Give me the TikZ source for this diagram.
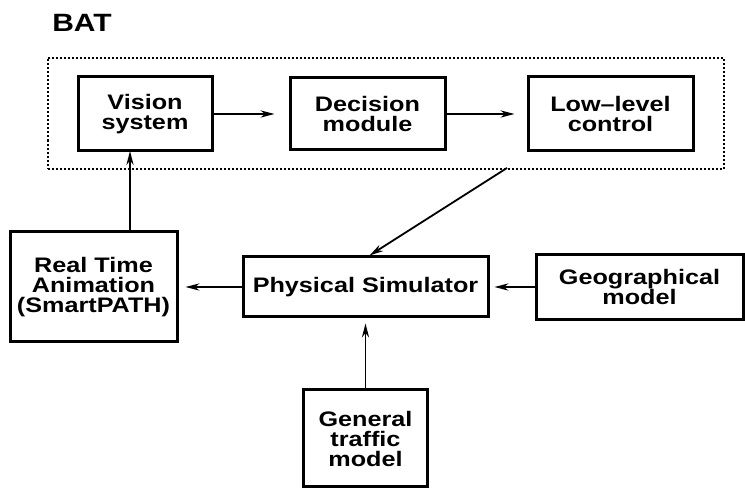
\documentclass[tikz,border=0pt]{standalone}
\usepackage{fontspec}
\setmainfont{Liberation Sans}[FakeStretch=1.2]
\usepackage{tikz}
\usetikzlibrary{arrows.meta,fit,positioning}
\tikzset{
    %Define standard arrow tip
    >={Stealth[length=7pt,width=3.6pt]},
    %Define style for boxes
    blok/.style={
           rectangle,
           draw=black, line width=1.5pt,
           inner sep=2pt,
           font=\bfseries\fontsize{10.5}{10}\selectfont,
           align=center},
    groep/.style={
           rectangle,
           draw=black, line width=1pt,
           dash pattern=on 1pt off 1pt,
           inner xsep=14.5pt,
           inner ysep=8.5pt},
    % Define arrow style
    pil/.style={
           ->,
           line width=0.9pt}
}
\begin{document}
\begin{tikzpicture}[x=0.5pt,y=-0.5pt]
\useasboundingbox (0,0) rectangle (745,491);
 %nodes
\node[font=\bfseries\fontsize{12.5}{12.5}\selectfont](bat) at (82,23){BAT};

\node[blok, minimum width=67pt, minimum height=37pt](vision) at (145,114){Vision\\system};
\node[blok, right=37.5pt of vision, minimum width=77.5pt, minimum height=36pt](decision){Decision\\module};
\node[blok, right=40pt of decision, minimum width=82.5pt, minimum height=37pt](lowlevel){Low--level\\control};
\node[groep, fit=(vision)(decision)(lowlevel)](bat box){};

\node[blok, minimum width=122.5pt, minimum height=30pt](physical) at (365.5,287){Physical Simulator};
\node[blok, left=31.5pt of physical, minimum width=83.5pt, minimum height=55pt](animation){Real Time\\Animation\\(SmartPATH)};
\node[blok, right=22.5pt of physical, minimum width=103.5pt, minimum height=32.5pt](geo){Geographical\\model};
\node[blok, below=35pt of physical, minimum width=62pt, minimum height=48.5pt](general){General\\traffic\\model};

\coordinate (exit) at (507,168);
\coordinate (up) at (130,151);

 \path[every edge/.style={draw,pil}]
    (vision) edge [shorten >=7pt] (decision)
    (decision) edge [shorten >=6pt] (lowlevel)
    (physical) edge [shorten >=3.5pt] (animation)
    (geo) edge [shorten >=2.5pt] (physical)
    (general) edge [shorten >=2.5pt] (physical)
    (up |- animation.north) edge (up)
    (exit) edge ([xshift=2pt]physical.north);
\end{tikzpicture}
\end{document}
